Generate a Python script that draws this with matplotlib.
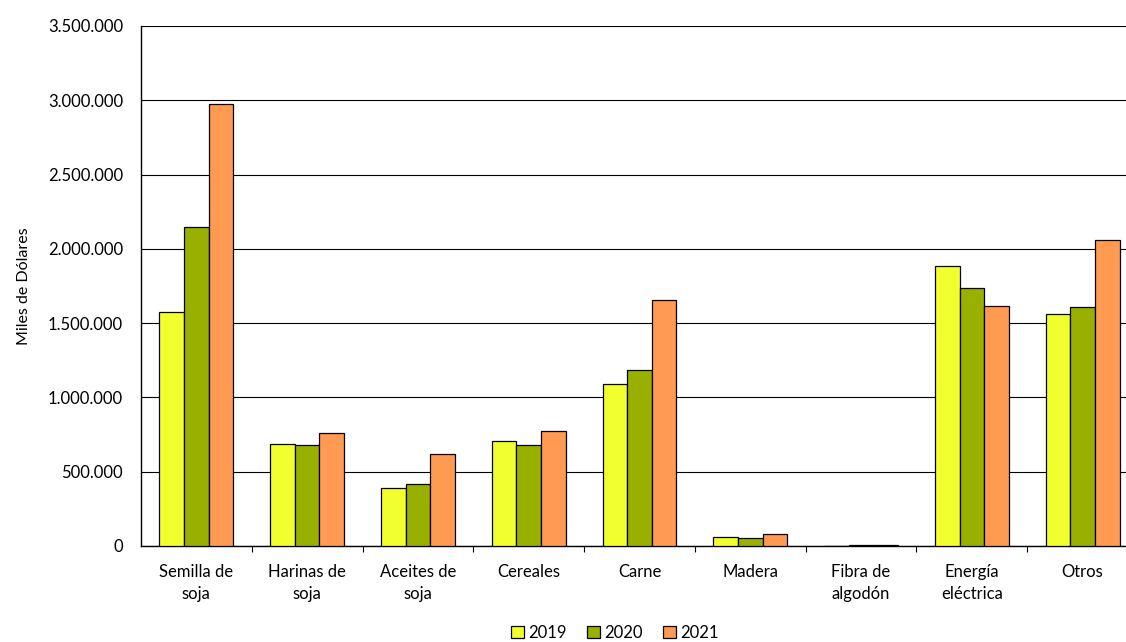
import numpy as np
import matplotlib.pyplot as plt
from matplotlib.ticker import FuncFormatter

categorias = ['Semilla de\nsoja', 'Harinas de\nsoja', 'Aceites de\nsoja', 'Cereales', 'Carne',
              'Madera', 'Fibra de\nalgodón', 'Energía\neléctrica', 'Otros']
anios = ['2019', '2020', '2021']
v2019 = [1575000, 687000, 390000, 707000, 1090000, 58000, 3000, 1885000, 1562000]
v2020 = [2147000, 680000, 417000, 680000, 1185000, 54000, 4000, 1737000, 1609000]
v2021 = [2975000, 760000, 619000, 774000, 1656000, 83000, 7000, 1615000, 2060000]
colores = ['#F2FF2E', '#99B000', '#FF9A52']

plt.rcParams['font.family'] = ['Lato', 'DejaVu Sans']

fig = plt.figure(figsize=(11.26, 6.42), dpi=100)
ax = fig.add_axes([141/1126, 96/642, 997/1126, 520/642])

x = np.arange(len(categorias))
w = 2/9
for i, (vals, c, lab) in enumerate(zip([v2019, v2020, v2021], colores, anios)):
    ax.bar(x + (i - 1) * w, vals, w, color=c, edgecolor='black', linewidth=0.9, label=lab, zorder=3)

ax.set_xlim(-0.5, len(categorias) - 0.5)
ax.set_ylim(0, 3500000)
ax.set_yticks(np.arange(0, 3500001, 500000))
ax.yaxis.set_major_formatter(FuncFormatter(lambda v, p: f'{int(v):,}'.replace(',', '.')))
ax.tick_params(axis='y', length=0, labelsize=12, pad=13)
ax.grid(axis='y', color='black', linewidth=0.8, zorder=0)

ax.set_xticks(x)
ax.set_xticklabels(categorias, fontsize=12, linespacing=1.45)
ax.set_xticks(np.arange(0.5, len(categorias) - 0.5), minor=True)
ax.tick_params(axis='x', which='major', length=0, pad=13)
ax.tick_params(axis='x', which='minor', length=4, direction='out', width=0.8)

ax.spines['top'].set_visible(False)
ax.spines['right'].set_visible(False)
ax.spines['left'].set_linewidth(1.0)
ax.spines['bottom'].set_linewidth(1.0)

ax.set_ylabel('Miles de Dólares', fontsize=11.5, labelpad=12)

fig.legend(loc='lower center', bbox_to_anchor=(615/1126, -0.022), ncol=3, frameon=False,
           fontsize=12, handlelength=0.75, handleheight=0.75, handletextpad=0.3, columnspacing=1.2)

fig.savefig('out.png', dpi=100)
